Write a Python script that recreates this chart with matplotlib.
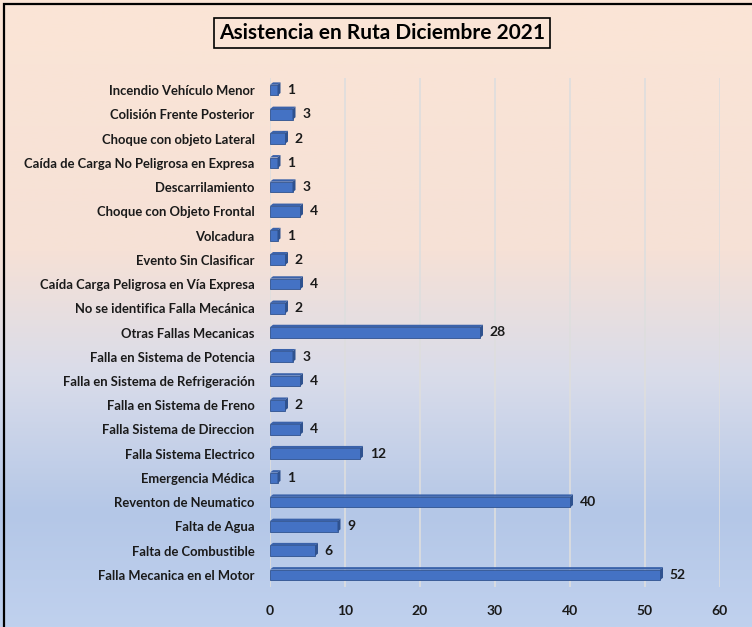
import numpy as np
import matplotlib.pyplot as plt
from matplotlib.colors import LinearSegmentedColormap
from matplotlib.patches import Polygon, Rectangle

# data, listed top to bottom as in the chart
categories = [
    "Incendio Vehículo Menor",
    "Colisión Frente Posterior",
    "Choque con objeto Lateral",
    "Caída de Carga No Peligrosa en Expresa",
    "Descarrilamiento",
    "Choque con Objeto Frontal",
    "Volcadura",
    "Evento Sin Clasificar",
    "Caída Carga Peligrosa en Vía Expresa",
    "No se identifica Falla Mecánica",
    "Otras Fallas Mecanicas",
    "Falla en Sistema de Potencia",
    "Falla en Sistema de Refrigeración",
    "Falla en Sistema de Freno",
    "Falla Sistema de Direccion",
    "Falla Sistema Electrico",
    "Emergencia Médica",
    "Reventon de Neumatico",
    "Falta de Agua",
    "Falta de Combustible",
    "Falla Mecanica en el Motor",
]
values = [1, 3, 2, 1, 3, 4, 1, 2, 4, 2, 28, 3, 4, 2, 4, 12, 1, 40, 9, 6, 52]
xticks = [0, 10, 20, 30, 40, 50, 60]

plt.rcParams['font.family'] = ['Lato', 'DejaVu Sans']
plt.rcParams['font.weight'] = 'bold'

fig = plt.figure(figsize=(7.52, 6.27), dpi=100)

# gradient background, peach on top fading to light blue
bg = fig.add_axes([0, 0, 1, 1], zorder=-10)
cmap = LinearSegmentedColormap.from_list(
    "bg", [(0.0, "#FBE5D6"), (0.40, "#F6E1D6"), (0.60, "#D9DCEA"),
           (0.82, "#B4C7E7"), (1.0, "#C0D1EE")])
grad = np.linspace(0, 1, 256).reshape(-1, 1)
bg.imshow(grad, aspect='auto', cmap=cmap, extent=[0, 1, 0, 1], origin='upper')
bg.set_xlim(0, 1)
bg.set_ylim(0, 1)
bg.axis('off')
# frame (only top and left visible in the crop)
bg.add_patch(Rectangle((4 / 752, -0.1), 1.2, 1 - 4 / 627 + 0.1, fill=False,
                       edgecolor='black', linewidth=1.6, transform=bg.transAxes))

ax = fig.add_axes([270 / 752, 1 - 587 / 627, 450 / 752, 509 / 627])
ax.patch.set_alpha(0)

y = np.arange(len(categories))
bars = ax.barh(y, values, height=0.44, color='#4472C4', edgecolor='#2F528F',
               linewidth=0.6, zorder=3)

# fake 3d depth: top face and right face from each bar's geometry
dx, dy = 0.4, 0.1
for b in bars:
    x0, y0 = b.get_x(), b.get_y()
    w, h = b.get_width(), b.get_height()
    top = Polygon([(x0, y0), (x0 + dx, y0 - dy), (x0 + w + dx, y0 - dy), (x0 + w, y0)],
                  closed=True, facecolor='#3A62AA', edgecolor='none', zorder=3)
    side = Polygon([(x0 + w, y0), (x0 + w + dx, y0 - dy), (x0 + w + dx, y0 + h - dy),
                    (x0 + w, y0 + h)],
                   closed=True, facecolor='#2F528F', edgecolor='none', zorder=3)
    ax.add_patch(top)
    ax.add_patch(side)

for yi, v in zip(y, values):
    ax.text(v + 1.3, yi, str(v), va='center', ha='left', fontsize=10,
            fontweight='bold', color='#1A1A1A', zorder=4)

ax.set_yticks(y)
ax.set_yticklabels(categories, fontsize=9.4, fontweight='bold', color='#1A1A1A')
ax.set_ylim(len(categories) - 0.5, -0.5)
ax.set_xlim(0, 60)
ax.set_xticks(xticks)
ax.set_xticklabels([str(t) for t in xticks], fontsize=10, fontweight='bold',
                   color='#1A1A1A')
ax.tick_params(axis='both', length=0)
ax.tick_params(axis='x', pad=13)
ax.tick_params(axis='y', pad=11)
ax.grid(axis='x', color='#DEDEDE', linewidth=1.2, zorder=0)
for s in ax.spines.values():
    s.set_visible(False)

# title in a box
fig.text(382 / 752, 1 - 33 / 627, "Asistencia en Ruta Diciembre 2021",
         ha='center', va='center', fontsize=15, fontweight='bold', color='black',
         bbox=dict(boxstyle='square,pad=0.25', facecolor='none',
                   edgecolor='black', linewidth=1.2))

fig.savefig("out.png", dpi=100)
